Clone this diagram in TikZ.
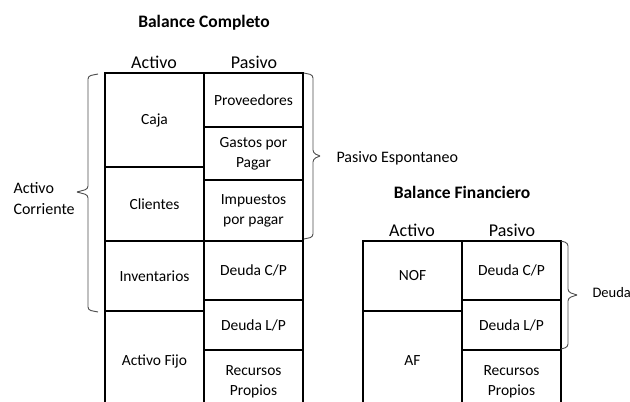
\documentclass[tikz,border=0pt]{standalone}
\usepackage{fontspec}
\setmainfont{Carlito}
\usetikzlibrary{calc}
\begin{document}
\begin{tikzpicture}[x=1pt,y=-1pt,
  cell/.style={draw=black,line width=1.6pt,inner sep=0pt,minimum width=99pt,align=center,
    font=\fontsize{15.5}{20}\selectfont},
  head/.style={anchor=base,font=\fontsize{18}{20}\selectfont},
  ttl/.style={anchor=base,font=\bfseries\fontsize{17.5}{20}\selectfont},
  lbl/.style={anchor=base west,align=left,font=\fontsize{16}{21}\selectfont},
  brc/.style={draw=black!70,line width=0.9pt,rounded corners=3pt}]
\useasboundingbox (0,0) rectangle (630,402);
\clip (0,0) rectangle (630,402);
% Balance Completo
\node[ttl] (t1) at (204,27) {Balance Completo};
\node[head] (a1) at (154,68) {Activo};
\node[head] (p1) at (254,68) {Pasivo};
\node[cell,minimum height=94pt] (caja) at (154.5,120) {Caja};
\node[cell,minimum height=74pt] (cli) at (154.5,204) {Clientes};
\node[cell,minimum height=70pt] (inv) at (154.5,276) {Inventarios};
\node[cell,minimum height=100pt] (af1) at (154.5,361) {Activo Fijo};
\node[cell,minimum height=54pt] (prov) at (253.5,100) {Proveedores};
\node[cell,minimum height=53pt] (gas) at (253.5,153.5) {Gastos por\\Pagar};
\node[cell,minimum height=61pt] (imp) at (253.5,210.5) {Impuestos\\por pagar};
\node[cell,minimum height=59pt] (dcp1) at (253.5,270.5) {Deuda C/P};
\node[cell,minimum height=50pt] (dlp1) at (253.5,325) {Deuda L/P};
\node[cell,minimum height=63pt] (rp1) at (253.5,381.5) {Recursos\\Propios};
% Balance Financiero
\node[ttl] (t2) at (462,198) {Balance Financiero};
\node[head] (a2) at (412,236) {Activo};
\node[head] (p2) at (512,236) {Pasivo};
\node[cell,minimum height=70pt] (nof) at (412.5,276) {NOF};
\node[cell,minimum height=100pt] (af2) at (412.5,361) {AF};
\node[cell,minimum height=59pt] (dcp2) at (511.5,270.5) {Deuda C/P};
\node[cell,minimum height=50pt] (dlp2) at (511.5,325) {Deuda L/P};
\node[cell,minimum height=63pt] (rp2) at (511.5,381.5) {Recursos\\Propios};
% braces
\coordinate (acTip) at (77,192);
\coordinate (peTip) at (320,156);
\coordinate (deTip) at (577,295);
\draw[brc] (98,74) -- (88,76) -- (88,189) -- (acTip);
\draw[brc] (acTip) -- (88,195) -- (88,310) -- (98,312);
\draw[brc] (304,73) -- (313,75) -- (313,153) -- (peTip);
\draw[brc] (peTip) -- (313,159) -- (313,237) -- (304,239);
\draw[brc] (561,241) -- (568,243) -- (568,292) -- (deTip);
\draw[brc] (deTip) -- (568,298) -- (568,347) -- (561,349);
\node[lbl] (acl) at (10,214) {Activo\\Corriente};
\node[lbl] (pel) at (333,162) {Pasivo Espontaneo};
\node[lbl,font=\fontsize{14.5}{20}\selectfont] (del) at (589,297) {Deuda};
\end{tikzpicture}
\end{document}
